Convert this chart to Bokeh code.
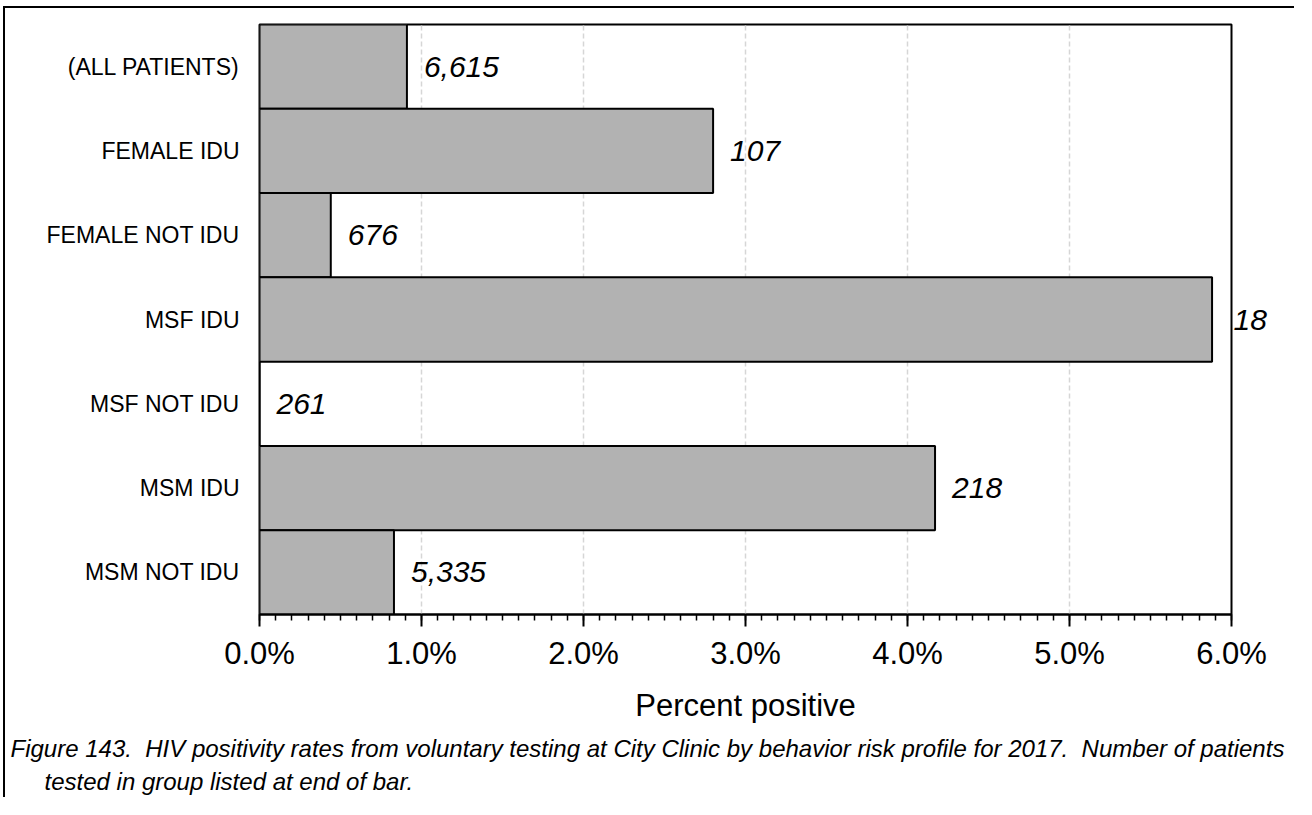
from bokeh.plotting import figure
from bokeh.models import (FactorRange, Range1d, SingleIntervalTicker, PrintfTickFormatter,
                          ColumnDataSource, LabelSet, CategoricalAxis, Title)
from bokeh.core.properties import value
from bokeh.embed import file_html
from bokeh.resources import INLINE

# ---- data ----
categories = ["(ALL PATIENTS)", "FEMALE IDU", "FEMALE NOT IDU", "MSF IDU",
              "MSF NOT IDU", "MSM IDU", "MSM NOT IDU"]
pct_positive = [0.91, 2.80, 0.44, 5.88, 0.0, 4.17, 0.83]
n_tested = ["6,615", "107", "676", "18", "261", "218", "5,335"]
x_ticks_max = 6
axis_title = "Percent positive"
caption_1 = "Figure 143.\u00a0 HIV positivity rates from voluntary testing at City Clinic by behavior risk profile for 2017.\u00a0 Number of patients"
caption_2 = "tested in group listed at end of bar."

FONT = "Liberation Sans"

# labels that would run past the right edge of the frame go on a right-hand axis instead
overflow = [v > x_ticks_max - 0.3 for v in pct_positive]
in_cat = [c for c, o in zip(categories, overflow) if not o]
in_pct = [v for v, o in zip(pct_positive, overflow) if not o]
in_n = [n for n, o in zip(n_tested, overflow) if not o]
right_factors = [n if o else " " * (i + 1) for i, (n, o) in enumerate(zip(n_tested, overflow))]

src = ColumnDataSource(dict(cat=categories, pct=pct_positive))
lab_src = ColumnDataSource(dict(cat=in_cat, pct=in_pct, n=in_n))

p = figure(width=1291, height=791, output_backend="svg", toolbar_location=None,
           y_range=FactorRange(factors=list(reversed(categories)), range_padding=0),
           x_range=Range1d(0, x_ticks_max),
           min_border_left=254, min_border_right=65, min_border_top=16, min_border_bottom=185)
p.extra_y_ranges = {"nlab": FactorRange(factors=list(reversed(right_factors)), range_padding=0)}
p.styles = {"border-left": "2px solid black", "border-top": "2px solid black",
            "margin-left": "3px", "margin-top": "6px"}

p.outline_line_color = "black"
p.outline_line_width = 2
p.background_fill_color = "white"
p.border_fill_color = "white"

# grid
p.ygrid.grid_line_color = None
p.xgrid.ticker = SingleIntervalTicker(interval=1, num_minor_ticks=10)
p.xgrid.grid_line_color = "#d6d6d6"
p.xgrid.grid_line_dash = "5 3"
p.xgrid.grid_line_width = 1.5

# bars
p.hbar(y="cat", right="pct", left=0, height=1.0, source=src,
       fill_color="#b2b2b2", line_color="black", line_width=2)

# value labels
p.add_layout(LabelSet(x="pct", y="cat", text="n", source=lab_src, x_offset=17,
                      text_baseline="middle", text_align="left",
                      text_font=value(FONT), text_font_size=value("30px"),
                      text_font_style=value("italic"), text_color=value("black")))

# right axis carrying the labels that fall outside the frame
ra = CategoricalAxis(y_range_name="nlab")
ra.axis_line_color = None
ra.major_tick_line_color = None
ra.minor_tick_line_color = None
ra.major_tick_in = 0
ra.major_tick_out = 0
ra.major_label_standoff = 2
ra.major_label_text_font = FONT
ra.major_label_text_font_size = "30px"
ra.major_label_text_font_style = "italic"
ra.major_label_text_color = "black"
p.add_layout(ra, "right")

# x axis
xa = p.xaxis[0]
xa.ticker = SingleIntervalTicker(interval=1, num_minor_ticks=10)
xa.formatter = PrintfTickFormatter(format="%.1f%%")
xa.axis_line_width = 2
xa.axis_line_color = "black"
xa.major_tick_in = 0
xa.major_tick_out = 12
xa.major_tick_line_width = 2
xa.minor_tick_in = 0
xa.minor_tick_out = 6
xa.minor_tick_line_width = 1.5
xa.major_label_text_font = FONT
xa.major_label_text_font_size = "31px"
xa.major_label_text_color = "black"
xa.major_label_standoff = 9
xa.axis_label = axis_title
xa.axis_label_text_font = FONT
xa.axis_label_text_font_size = "31px"
xa.axis_label_text_font_style = "normal"
xa.axis_label_text_color = "black"
xa.axis_label_standoff = 14

# y axis
ya = p.yaxis[0]
ya.axis_line_color = None
ya.major_tick_line_color = None
ya.minor_tick_line_color = None
ya.major_tick_in = 0
ya.major_tick_out = 0
ya.major_label_standoff = 20
ya.major_label_text_font = FONT
ya.major_label_text_font_size = "23px"
ya.major_label_text_color = "black"

# caption
t1 = Title(text=caption_1, align="left", offset=-249, standoff=14,
           text_font=FONT, text_font_size="24px", text_font_style="italic", text_color="black")
t2 = Title(text=caption_2, align="left", offset=-215, standoff=-5,
           text_font=FONT, text_font_size="24px", text_font_style="italic", text_color="black")
p.add_layout(t1, "below")
p.add_layout(t2, "below")

open("out.html", "w").write(file_html(p, INLINE))
